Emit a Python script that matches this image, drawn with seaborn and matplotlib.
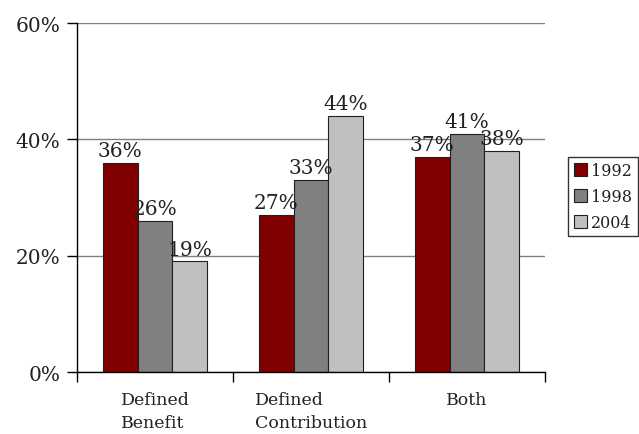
import pandas as pd
import seaborn as sns
import matplotlib.pyplot as plt
from matplotlib.ticker import FixedLocator

# Datos
categorias = ['Defined\nBenefit', 'Defined\nContribution', 'Both']
anios = ['1992', '1998', '2004']
valores_1992 = [36, 27, 37]
valores_1998 = [26, 33, 41]
valores_2004 = [19, 44, 38]
colores = ['#800000', '#808080', '#C0C0C0']

df = pd.DataFrame({
    'categoria': categorias * 3,
    'anio': [a for a in anios for _ in categorias],
    'valor': valores_1992 + valores_1998 + valores_2004,
})

sns.set_style('white')
plt.rcParams['font.family'] = ['DejaVu Serif']

fig = plt.figure(figsize=(6.39, 4.35), dpi=100)
ax = fig.add_axes([0.1205, 0.1425, 0.7325, 0.8023])

sns.barplot(
    data=df, x='categoria', y='valor', hue='anio',
    palette=colores, width=0.667, edgecolor='#202020', linewidth=0.8,
    saturation=1, ax=ax, legend=True
)

for cont in ax.containers:
    ax.bar_label(cont, fmt='%d%%', fontsize=14.5, color='#222222', padding=2)

ax.set_ylim(0, 60)
ax.set_xlim(-0.5, 2.5)
ax.set_yticks([0, 20, 40, 60])
ax.set_yticklabels(['0%', '20%', '40%', '60%'], fontsize=14.5, color='#222222')
ax.yaxis.grid(True, color='#808080', linewidth=1)
ax.set_axisbelow(True)
ax.tick_params(axis='y', length=7, width=1, color='black', left=True, pad=5)

# marcas del eje x en los limites de cada grupo
ax.xaxis.set_minor_locator(FixedLocator([-0.5, 0.5, 1.5, 2.5]))
ax.tick_params(axis='x', which='minor', length=7, width=1, color='black', bottom=True)
ax.tick_params(axis='x', which='major', length=0, pad=14)
ax.set_xticks(range(len(categorias)))
ax.set_xticklabels(categorias, fontsize=12.5, color='#222222', ha='center',
                   multialignment='left', linespacing=1.4)

ax.set_xlabel('')
ax.set_ylabel('')
for lado in ['top', 'right']:
    ax.spines[lado].set_visible(False)
for lado in ['left', 'bottom']:
    ax.spines[lado].set_color('black')
    ax.spines[lado].set_linewidth(1)

leg = ax.legend(
    loc='center left', bbox_to_anchor=(0.889, 0.546), bbox_transform=fig.transFigure,
    frameon=True, fancybox=False, edgecolor='black', fontsize=11.5,
    handlelength=0.85, handleheight=0.85, handletextpad=0.25, borderpad=0.35,
    labelspacing=0.55, borderaxespad=0
)
leg.get_frame().set_linewidth(1)
for t in leg.get_texts():
    t.set_color('#222222')

fig.savefig('out.png', dpi=100)
